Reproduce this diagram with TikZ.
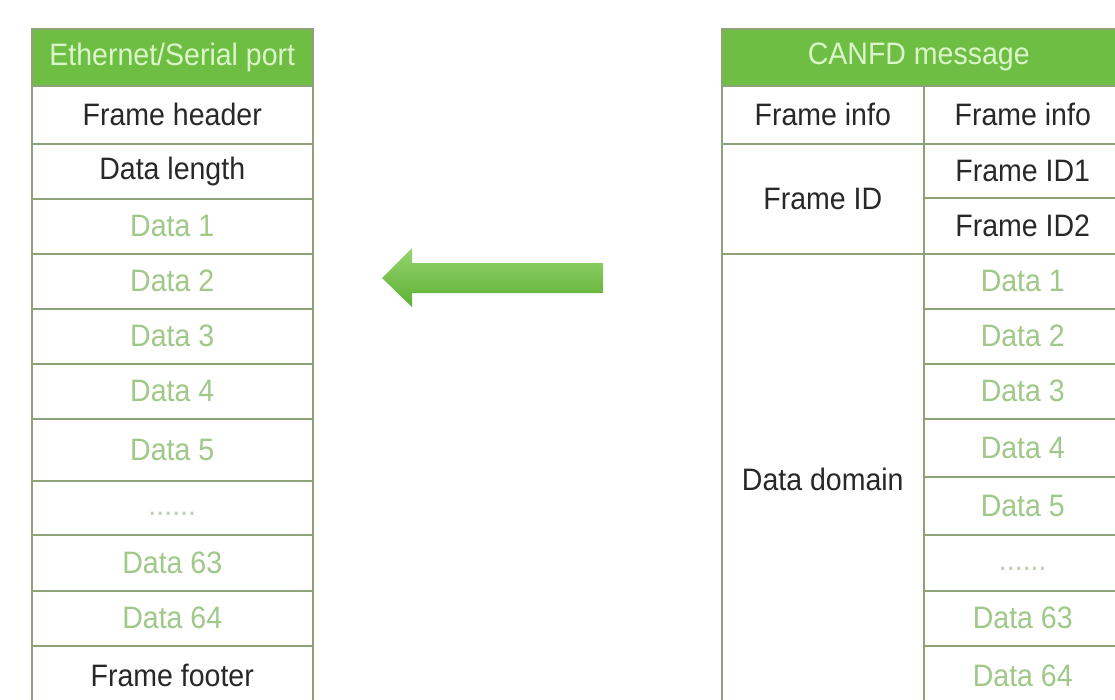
\documentclass[tikz,border=0pt]{standalone}
\usepackage{fontspec}
\setmainfont{Liberation Sans}[FakeStretch=0.92]
\definecolor{gridline}{RGB}{142,162,122}
\definecolor{headfill}{RGB}{110,190,68}
\definecolor{headtext}{RGB}{218,246,200}
\definecolor{datatext}{RGB}{160,200,136}
\definecolor{dottext}{RGB}{190,205,180}
\definecolor{plaintext}{RGB}{40,40,40}
\definecolor{arrowtop}{RGB}{150,212,110}
\definecolor{arrowbot}{RGB}{92,176,52}
\newcommand\sixdots{......}
\tikzset{
  cell/.style={draw=gridline, line width=1.5pt, fill=white, anchor=north west,
    inner sep=0pt, font=\fontsize{31}{37}\selectfont, text=plaintext},
  headcell/.style={cell, fill=headfill, text=headtext},
  datacell/.style={cell, text=datatext},
  dotcell/.style={cell, text=dottext, text height=22pt, text depth=7pt},
}
\begin{document}
\begin{tikzpicture}[x=1pt,y=-1pt]
\useasboundingbox (0,0) rectangle (1115,699);

% left table: Ethernet / serial frame
\node[headcell, minimum width=281pt, minimum height=57pt] (lhead) at (31,28) {Ethernet/Serial port};
\foreach \nm/\yy/\hh/\sty/\txt in {
  lfh/85/58/cell/Frame header,
  ldl/143/55/cell/Data length,
  ld1/198/55/datacell/Data 1,
  ld2/253/55/datacell/Data 2,
  ld3/308/55/datacell/Data 3,
  ld4/363/55/datacell/Data 4,
  ld5/418/62/datacell/Data 5,
  ldots/480/54/dotcell/\sixdots,
  ld63/534/56/datacell/Data 63,
  ld64/590/55/datacell/Data 64,
  lff/645/60/cell/Frame footer}
  \node[\sty, minimum width=281pt, minimum height=\hh pt] (\nm) at (31,\yy) {\txt};

% right table: CANFD message
\node[headcell, minimum width=400pt, minimum height=57pt] (rhead) at (721,28) {\hspace*{-6pt}CANFD message};
\node[cell, minimum width=202pt, minimum height=58pt] (rfi) at (721,85) {Frame info};
\node[cell, minimum width=202pt, minimum height=110pt] (rid) at (721,143) {Frame ID};
\node[cell, minimum width=202pt, minimum height=452pt] (rdom) at (721,253) {Data domain};
\foreach \nm/\yy/\hh/\sty/\txt in {
  sfi/85/58/cell/Frame info,
  sid1/143/54/cell/Frame ID1,
  sid2/197/56/cell/Frame ID2,
  sd1/253/55/datacell/Data 1,
  sd2/308/55/datacell/Data 2,
  sd3/363/55/datacell/Data 3,
  sd4/418/58/datacell/Data 4,
  sd5/476/58/datacell/Data 5,
  sdots/534/56/dotcell/\sixdots,
  sd63/590/55/datacell/Data 63,
  sd64/645/60/datacell/Data 64}
  \node[\sty, minimum width=198pt, minimum height=\hh pt] (\nm) at (923,\yy) {\txt};

% block arrow pointing from the CANFD side to the serial side
\shade[top color=arrowtop, bottom color=arrowbot]
  (382,278) -- (412,248) -- (412,263) -- (603,263) -- (603,293)
  -- (412,293) -- (412,307) -- cycle;
\end{tikzpicture}
\end{document}
